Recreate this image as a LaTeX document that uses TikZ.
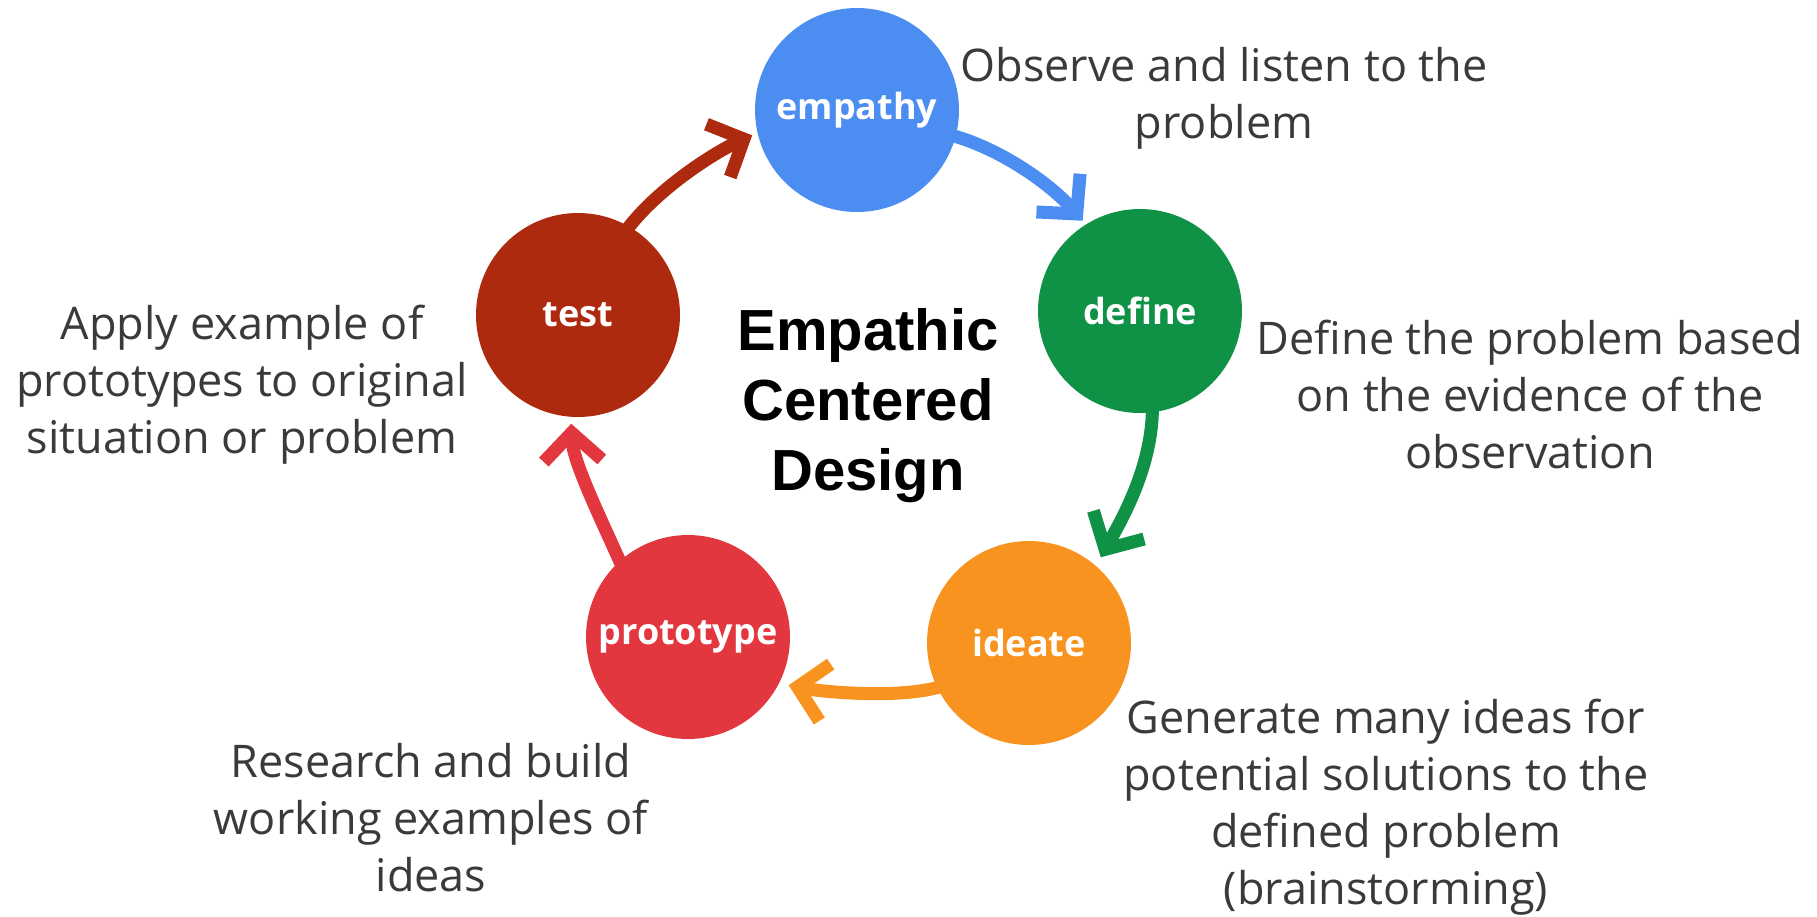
\documentclass[tikz,border=0pt]{standalone}
\usepackage{fontspec}
\usetikzlibrary{arrows.meta}
\newfontfamily\opensans{Open Sans}
\newfontfamily\libsans{Liberation Sans}
\definecolor{empblue}{RGB}{75,141,241}
\definecolor{defgreen}{RGB}{15,145,70}
\definecolor{ideorange}{RGB}{247,147,30}
\definecolor{protred}{RGB}{227,55,63}
\definecolor{testred}{RGB}{174,42,15}
\definecolor{notegray}{RGB}{58,58,58}
\newcommand{\notefont}{\opensans\fontsize{45}{57}\selectfont}
\newcommand{\stagefont}{\opensans\bfseries\fontsize{36}{40}\selectfont}
\newcommand{\titlefont}{\libsans\bfseries\fontsize{58}{70}\selectfont}
\tikzset{
  stage/.style={circle, minimum size=204pt, inner sep=0pt, outer sep=0pt, text=white, font=\stagefont},
  note/.style={align=center, inner sep=0pt, text=notegray, font=\notefont},
  title/.style={align=center, inner sep=0pt, text=black, font=\titlefont},
  flow/.style={line width=13pt, shorten <=-5pt, -{Straight Barb[length=28pt,width=58pt]}}
}

\begin{document}
\begin{tikzpicture}[x=1pt,y=-1pt]
\useasboundingbox (0,0) rectangle (1817,916);
\node[stage, fill=empblue] (empathy) at (857,110) {empathy};
\node[stage, fill=defgreen] (define) at (1140,311) {define};
\node[stage, fill=ideorange] (ideate) at (1029,643) {ideate};
\node[stage, fill=protred] (prototype) at (688,637) {prototype};
\node[stage, fill=testred] (test) at (578,315) {test};

\node[title, anchor=base] (centre) at (868,490) {Empathic\\Centered\\Design};

\node[note, anchor=base] (obsnote) at (1224,138) {Observe and listen to the\\problem};
\node[note, anchor=base] (defnote) at (1530,468) {Define the problem based\\on the evidence of the\\observation};
\node[note, anchor=base] (idenote) at (1386,904) {Generate many ideas for\\potential solutions to the\\defined problem\\(brainstorming)};
\node[note, anchor=base] (pronote) at (431,891) {Research and build\\working examples of\\ideas};
\node[note, anchor=base] (testnote) at (242,453) {Apply example of\\prototypes to original\\situation or problem};

\draw[flow, empblue, shorten >=5pt] (empathy.-15) .. controls +(45,12) and +(-35,-40) .. (define.122);
\draw[flow, defgreen, shorten >=10pt] (define.-83) .. controls +(0,55) and +(25,-45) .. (ideate.49);
\draw[flow, ideorange, shorten >=10pt] (ideate.206) .. controls +(-40,12) and +(40,8) .. (prototype.-27);
\draw[flow, protred, shorten >=7pt] (prototype.132) .. controls +(-20,-45) and +(2,45) .. (test.-94);
\draw[flow, testred, shorten >=6pt] (test.60) .. controls +(30,-40) and +(-40,18) .. (empathy.193);
\end{tikzpicture}
\end{document}
